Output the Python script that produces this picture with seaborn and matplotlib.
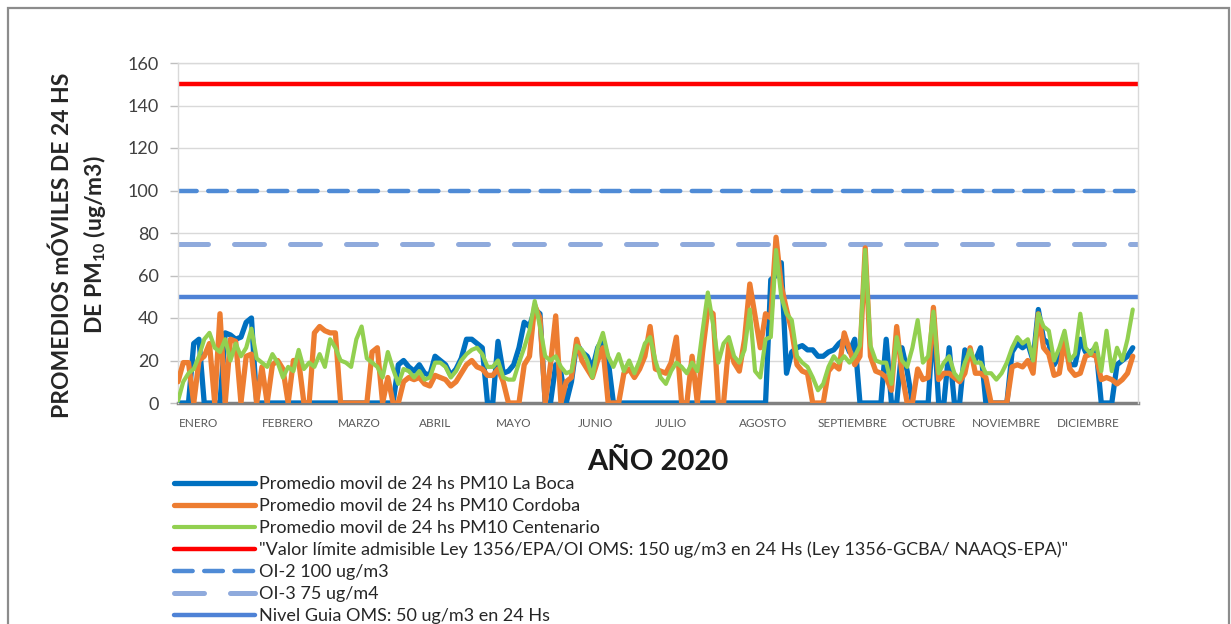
import matplotlib
matplotlib.use('Agg')
import matplotlib.pyplot as plt
from matplotlib.patches import Rectangle
import seaborn as sns

# day of year (every 2 days) and 24h moving averages
days = list(range(0, 365, 2))

la_boca = [0, 0, 0, 28, 30, 0, 0, 0, 0, 33, 32, 30, 31, 38, 40, 0,
           0, 0, 0, 0, 0, 0, 0, 0, 0, 0, 0, 0, 0, 0, 0, 0,
           0, 0, 0, 0, 0, 0, 0, 0, 0, 0, 18, 20, 17, 15,
           18, 14, 13, 22, 20, 18, 13, 16, 21, 30,
           30, 28, 26, 0, 0, 29, 14, 15, 18, 26,
           38, 36, 44, 42, 0, 0, 18, 14, 0, 10,
           28, 24, 22, 16, 26, 30, 20, 0, 0, 0,
           0, 0, 0, 0, 0, 0,
           0, 0, 0, 0, 0, 0, 0, 0, 0, 0,
           0, 0, 0, 0, 0, 0, 0, 0, 0, 0,
           0, 58, 60, 66, 14, 24, 26, 27, 25, 25,
           22, 22, 24, 25, 28, 30, 24, 30, 0, 0,
           0, 0, 0, 30, 0, 0,
           26, 15, 0, 0, 0, 0, 40, 0, 0, 26,
           0, 0, 25, 22, 20, 26, 0, 0, 0, 0,
           0, 24, 28, 26, 28, 20, 44, 30, 28, 18,
           22, 30, 18, 18, 30, 24, 24, 26, 0, 0,
           0, 18, 20, 22, 26]

cordoba = [10, 19, 19, 0, 20, 22, 28, 0, 42, 0, 30, 29, 0, 22, 23, 0,
           17, 0, 18, 20, 16, 0, 20, 20, 0, 0, 33, 36, 34, 33, 33, 0,
           0, 0, 0, 0, 0, 24, 26, 0, 12, 0, 0, 10, 12, 11,
           12, 9, 8, 13, 12, 11, 8, 10, 14, 18,
           20, 17, 16, 13, 13, 16, 10, 0, 0, 0,
           18, 22, 46, 40, 0, 18, 41, 0, 10, 12,
           30, 20, 16, 12, 20, 26, 0, 0, 0, 14,
           16, 12, 16, 22, 36, 16,
           15, 14, 19, 31, 0, 0, 22, 0, 24, 44,
           42, 0, 0, 28, 19, 15, 30, 56, 41, 26,
           42, 40, 78, 55, 44, 34, 18, 15, 14, 0,
           0, 0, 15, 18, 16, 33, 25, 18, 22, 73,
           22, 15, 14, 12, 6, 36,
           14, 0, 0, 16, 11, 12, 45, 11, 14, 14,
           12, 10, 14, 26, 14, 14, 12, 0, 0, 0,
           0, 17, 18, 17, 20, 14, 42, 26, 23, 13,
           14, 30, 16, 13, 14, 22, 23, 22, 11, 12,
           11, 9, 11, 14, 22]

centenario = [1, 10, 14, 16, 22, 30, 33, 26, 24, 30, 20, 28, 22, 26, 35, 21,
              19, 17, 23, 19, 12, 17, 15, 25, 16, 19, 17, 23, 17, 30, 26, 20,
              19, 17, 30, 36, 21, 19, 17, 12, 24, 16, 9, 16, 15, 12,
              15, 11, 12, 19, 19, 17, 12, 15, 20, 23,
              25, 26, 23, 17, 17, 20, 12, 11, 11, 19,
              26, 34, 48, 36, 22, 20, 22, 17, 14, 15,
              27, 25, 20, 12, 26, 33, 22, 17, 23, 15,
              20, 14, 20, 28, 31, 20,
              12, 9, 15, 19, 17, 14, 19, 15, 34, 52,
              37, 19, 28, 31, 22, 19, 25, 44, 15, 12,
              30, 31, 72, 50, 42, 39, 22, 19, 17, 12,
              6, 9, 17, 22, 19, 22, 19, 22, 27, 72,
              27, 20, 19, 19, 9, 31,
              20, 17, 26, 39, 19, 22, 43, 14, 19, 22,
              14, 11, 19, 25, 19, 19, 14, 14, 11, 14,
              19, 26, 31, 28, 30, 20, 42, 36, 34, 20,
              26, 34, 20, 23, 42, 26, 23, 28, 15, 34,
              15, 26, 20, 30, 44]

month_names = ['ENERO', 'FEBRERO', 'MARZO', 'ABRIL', 'MAYO', 'JUNIO', 'JULIO', 'AGOSTO',
               'SEPTIEMBRE', 'OCTUBRE', 'NOVIEMBRE', 'DICIEMBRE']
month_days = [8, 42, 69, 98, 128, 159, 188, 223, 257, 286, 316, 347]

limit_150 = 150
oi2_100 = 100
oi3_75 = 75
guia_50 = 50

sns.set_theme(style='white')
plt.rcParams['font.family'] = ['Lato', 'DejaVu Sans']
plt.rcParams['mathtext.fontset'] = 'custom'
plt.rcParams['mathtext.rm'] = 'Lato'
plt.rcParams['mathtext.bf'] = 'Lato:bold'

fig = plt.figure(figsize=(12.31, 6.24), dpi=100)
ax = fig.add_axes([178 / 1231, 1 - 403 / 624, 960 / 1231, 340 / 624])

sns.lineplot(x=days, y=la_boca, ax=ax, color='#0070C0', linewidth=3.8,
             label='Promedio movil de 24 hs PM10 La Boca', zorder=3)
sns.lineplot(x=days, y=cordoba, ax=ax, color='#ED7D31', linewidth=3.8,
             label='Promedio movil de 24 hs PM10 Cordoba', zorder=4)
sns.lineplot(x=days, y=centenario, ax=ax, color='#92D050', linewidth=3.0,
             label='Promedio movil de 24 hs PM10 Centenario', zorder=5)

ax.axhline(limit_150, color='#FF0000', linewidth=3.2, zorder=2,
           label='"Valor límite admisible Ley 1356/EPA/OI OMS: 150 ug/m3 en 24 Hs (Ley 1356-GCBA/ NAAQS-EPA)"')
ax.axhline(oi2_100, color='#4F8BD6', linewidth=3.2, dashes=(4.2, 2.6), dash_capstyle='round', zorder=2,
           label='OI-2 100 ug/m3')
ax.axhline(oi3_75, color='#8FAADC', linewidth=3.6, dashes=(6.0, 5.2), dash_capstyle='round', zorder=2,
           label='OI-3 75 ug/m4')
ax.axhline(guia_50, color='#4E82D6', linewidth=3.2, zorder=2,
           label='Nivel Guia OMS: 50 ug/m3 en 24 Hs')

if ax.get_legend() is not None:
    ax.get_legend().remove()

ax.set_xlim(0, 366)
ax.set_ylim(0, 160)
ax.set_yticks(range(0, 161, 20))
ax.set_xticks(month_days)
ax.set_xticklabels(month_names)
ax.tick_params(axis='x', length=0, pad=11, labelsize=8.5, labelcolor='#595959')
ax.tick_params(axis='y', left=True, length=6, width=1, color='#BFBFBF', pad=8,
               labelsize=13, labelcolor='#404040')
ax.yaxis.grid(True, color='#D9D9D9', linewidth=1)
ax.xaxis.grid(False)
ax.set_axisbelow(True)
for side in ['left', 'top', 'right']:
    ax.spines[side].set_color('#D9D9D9')
    ax.spines[side].set_linewidth(1)
ax.spines['bottom'].set_color('#808080')
ax.spines['bottom'].set_linewidth(2.5)
ax.spines['bottom'].set_zorder(1)
ax.set_xlabel('')
ax.set_ylabel('')

fig.text(80 / 1231, 1 - 245 / 624, 'PROMEDIOS mÓVILES DE 24 HS\nDE PM$_{\\mathbf{10}}$ (ug/m3)',
         rotation=90, ha='center', va='center', multialignment='center',
         fontsize=16.5, fontweight='bold', linespacing=1.4, color='#262626')
fig.text(658 / 1231, 1 - 462 / 624, 'AÑO 2020', ha='center', va='center',
         fontsize=21, fontweight='bold', color='#1a1a1a')

handles, labels = ax.get_legend_handles_labels()
fig.legend(handles, labels, loc='upper left', bbox_to_anchor=(174 / 1231, 1 - 476 / 624),
           frameon=False, fontsize=13.0, handlelength=4.5, handletextpad=0.2,
           labelspacing=0.33, borderaxespad=0, borderpad=0, labelcolor='#262626')

fig.add_artist(Rectangle((8 / 1231, -0.05), 1221 / 1231, 1.05 - 8 / 624, transform=fig.transFigure,
                         fill=False, edgecolor='#8C8C8C', linewidth=1.6, clip_on=False))

fig.savefig('out.png', dpi=100)
